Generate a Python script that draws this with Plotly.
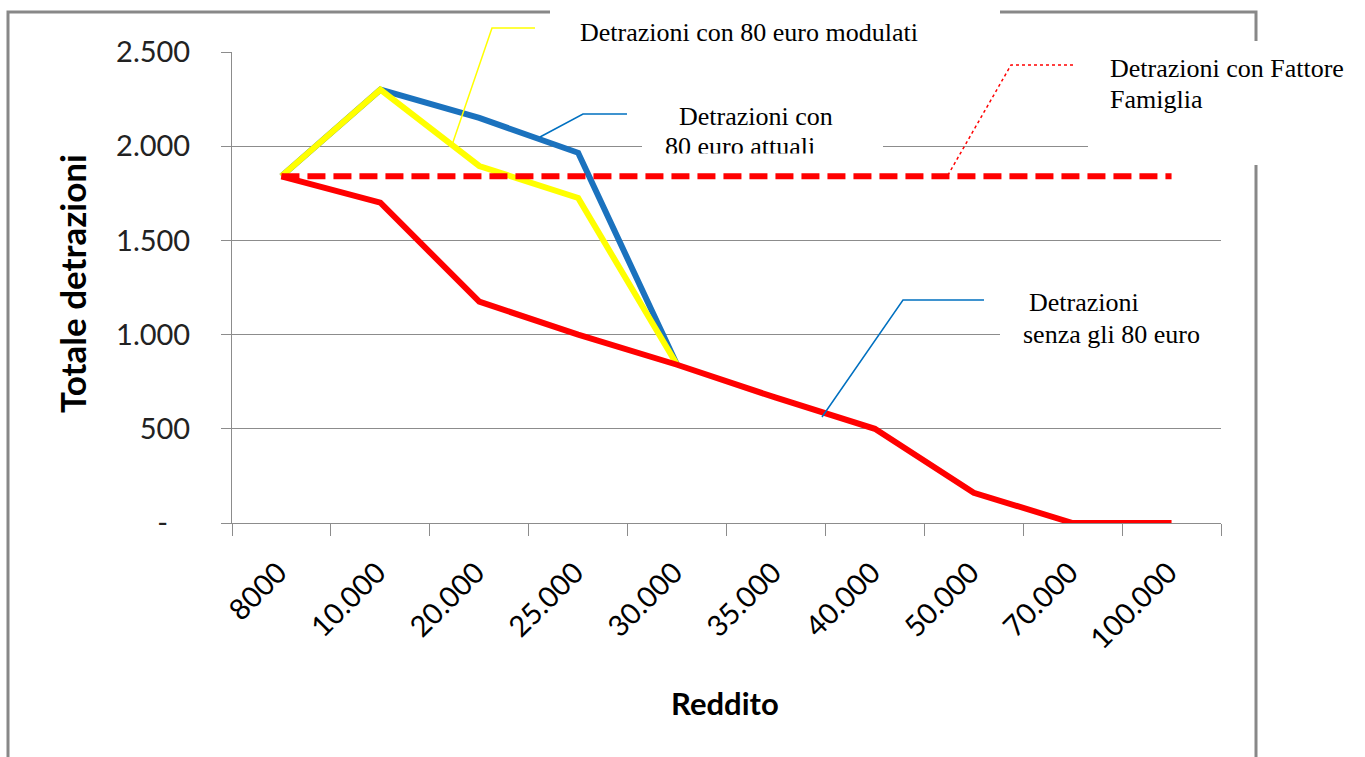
import plotly.graph_objects as go

# ---------------- data ----------------
categories = ["8000", "10.000", "20.000", "25.000", "30.000",
              "35.000", "40.000", "50.000", "70.000", "100.000"]
senza_80 = [1840, 1700, 1175, 1000, 840, 665, 500, 160, 0, 0]
con_80_attuali = [1840, 2300, 2150, 1965, 840, None, None, None, None, None]
con_80_modulati = [1840, 2300, 1895, 1725, 840, None, None, None, None, None]
fattore_famiglia = [1840, 1840, 1840, 1840, 1840, 1840, 1840, 1840, 1840, 1840]

y_tickvals = [0, 500, 1000, 1500, 2000, 2500]
y_ticktext = ["-\u00a0\u00a0\u00a0", "500", "1.000", "1.500", "2.000", "2.500"]

# ---------------- geometry helpers ----------------
W, H = 1365, 757
PL, PR, PT, PB = 232, 1221, 52, 523  # plot area in pixels


def px(x):
    return (x - PL) / (PR - PL)


def py(y):
    return (PB - y) / (PB - PT)


RED = "#FF0000"
BLUE = "#1B72BE"
YELLOW = "#FFFF00"
GRID = "#8C8C8C"
LW = 6

fig = go.Figure()
fig.add_trace(go.Scatter(x=categories, y=con_80_attuali, mode="lines",
                         line=dict(color=BLUE, width=LW), name="Detrazioni con 80 euro attuali"))
fig.add_trace(go.Scatter(x=categories, y=con_80_modulati, mode="lines",
                         line=dict(color=YELLOW, width=LW), name="Detrazioni con 80 euro modulati"))
fig.add_trace(go.Scatter(x=categories, y=senza_80, mode="lines",
                         line=dict(color=RED, width=LW), name="Detrazioni senza gli 80 euro"))
fig.add_trace(go.Scatter(x=categories, y=fattore_famiglia, mode="lines",
                         line=dict(color=RED, width=LW, dash="18px,8px"),
                         name="Detrazioni con Fattore Famiglia"))

shapes = []
# outer chart border
shapes.append(dict(type="rect", xref="paper", yref="paper",
                   x0=px(8), x1=px(1256), y0=py(780), y1=py(12),
                   line=dict(color="#888888", width=3), fillcolor="rgba(0,0,0,0)",
                   layer="below"))
# white text boxes (cover border and gridlines)
for (x0, x1, y0, y1) in [(550, 1000, 2, 57), (642, 883, 95, 153),
                         (1088, 1370, 41, 165), (1000, 1230, 280, 356)]:
    shapes.append(dict(type="rect", xref="paper", yref="paper",
                       x0=px(x0), x1=px(x1), y0=py(y1), y1=py(y0),
                       line=dict(width=0), fillcolor="white", layer="above"))


def leader(points, color, dash="solid", width=1.5):
    path = "M " + " L ".join(f"{px(a):.5f},{py(b):.5f}" for a, b in points)
    return dict(type="path", xref="paper", yref="paper", path=path,
                line=dict(color=color, width=width, dash=dash), layer="above")


shapes.append(leader([(535, 28), (492, 28), (452, 145)], YELLOW))
shapes.append(leader([(627, 114), (583, 114), (540, 137)], "#0070C0"))
shapes.append(leader([(1073, 65), (1011, 65), (948, 175)], RED, dash="dot"))
shapes.append(leader([(984, 300), (903, 300), (822, 417)], "#0070C0"))

SERIF = "Liberation Serif, Times New Roman, serif"
ann_font = dict(family=SERIF, size=26, color="black")


def txt(t, x, y, xanchor="left"):
    return dict(text=t, xref="paper", yref="paper", x=px(x), y=py(y),
                xanchor=xanchor, yanchor="middle", showarrow=False, font=ann_font)


annotations = [
    txt("Detrazioni con 80 euro modulati", 578, 32),
    txt("Detrazioni con", 677, 117),
    txt("80 euro attuali", 663, 146),
    txt("Detrazioni con Fattore", 1108, 68),
    txt("Famiglia", 1108, 99),
    txt("Detrazioni", 1027, 302),
    txt("senza gli 80 euro", 1021, 334),
    # clip bottom of "80 euro attuali" like the text box does
    dict(text=" ", xref="paper", yref="paper", x=px(645), y=py(153),
         xanchor="left", yanchor="top", showarrow=False, width=235, height=14,
         bgcolor="white", borderpad=0, font=dict(size=4)),
    # axis titles
    dict(text="<b>Totale detrazioni</b>", xref="paper", yref="paper",
         x=px(72), y=py(284), xanchor="center", yanchor="middle", textangle=-90,
         showarrow=False, font=dict(family="Lato, sans-serif", size=35, color="black")),
    dict(text="<b>Reddito</b>", xref="paper", yref="paper",
         x=px(725), y=py(703), xanchor="center", yanchor="middle",
         showarrow=False, font=dict(family="Lato, sans-serif", size=31, color="black")),
]

fig.update_layout(
    width=W, height=H, autosize=False,
    margin=dict(l=PL, r=W - PR, t=PT, b=H - PB, pad=0),
    paper_bgcolor="white", plot_bgcolor="white",
    showlegend=False,
    shapes=shapes, annotations=annotations,
    xaxis=dict(type="category", range=[-0.5, 9.5], tickson="boundaries",
               ticks="outside", ticklen=12, tickcolor=GRID, tickwidth=1,
               showline=True, linecolor=GRID, linewidth=1, showgrid=False,
               tickangle=-45, ticklabelstandoff=20, ticklabelshift=-3,
               tickfont=dict(family="Lato, sans-serif", size=29, color="black")),
    yaxis=dict(range=[0, 2500], tickvals=y_tickvals, ticktext=y_ticktext,
               ticks="outside", ticklen=10, tickcolor=GRID, tickwidth=1,
               showline=True, linecolor=GRID, linewidth=1,
               showgrid=True, gridcolor=GRID, gridwidth=1, zeroline=False,
               ticklabelstandoff=25,
               tickfont=dict(family="Lato, sans-serif", size=29, color="#222222")),
)

fig.write_html("out.html", config={"displayModeBar": False},
               post_script="document.body.style.margin='0';")
